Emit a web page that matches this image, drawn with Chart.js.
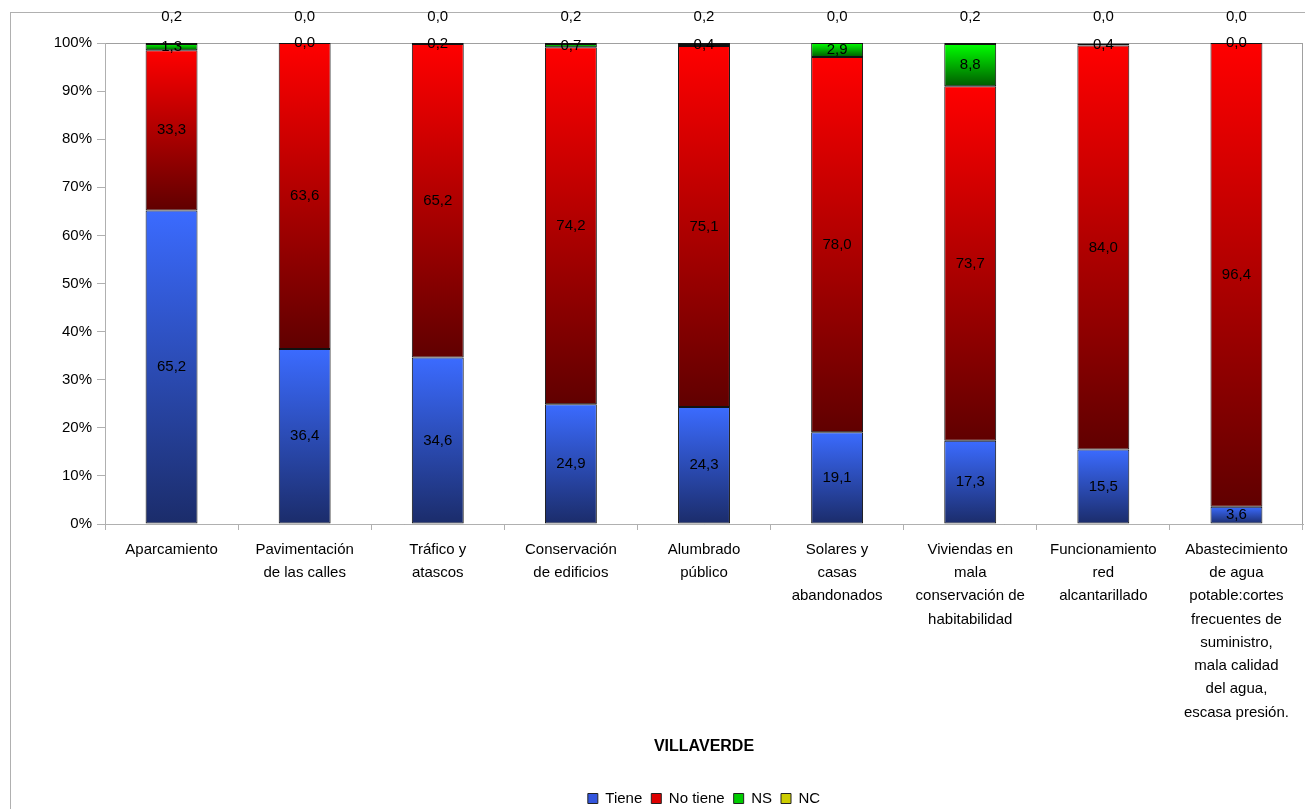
<!DOCTYPE html>
<html>
<head>
<meta charset="utf-8">
<script src="https://cdn.jsdelivr.net/npm/chart.js@4.4.0/dist/chart.umd.min.js"></script>
<style>
  html, body { margin: 0; padding: 0; background: #fff; }
  #wrap { width: 1305px; height: 809px; }
</style>
</head>
<body>
<div id="wrap"><canvas id="chart" width="1305" height="809"></canvas></div>
<script>
// categories (multi-line labels as in the original)
const categories = [
  ['Aparcamiento'],
  ['Pavimentación', 'de las calles'],
  ['Tráfico y', 'atascos'],
  ['Conservación', 'de edificios'],
  ['Alumbrado', 'público'],
  ['Solares y', 'casas', 'abandonados'],
  ['Viviendas en', 'mala', 'conservación de', 'habitabilidad'],
  ['Funcionamiento', 'red', 'alcantarillado'],
  ['Abastecimiento', 'de agua', 'potable:cortes', 'frecuentes de', 'suministro,', 'mala calidad', 'del agua,', 'escasa presión.']
];

const tiene   = [65.2, 36.4, 34.6, 24.9, 24.3, 19.1, 17.3, 15.5, 3.6];
const noTiene = [33.3, 63.6, 65.2, 74.2, 75.1, 78.0, 73.7, 84.0, 96.4];
const ns      = [1.3, 0.0, 0.2, 0.7, 0.4, 2.9, 8.8, 0.4, 0.0];
const nc      = [0.2, 0.0, 0.0, 0.2, 0.2, 0.0, 0.2, 0.0, 0.0];

const seriesNames = ['Tiene', 'No tiene', 'NS', 'NC'];
const yTicks = [0, 10, 20, 30, 40, 50, 60, 70, 80, 90, 100];

const allSeries = [tiene, noTiene, ns, nc];
const FONT = 'Liberation Sans, Arial, sans-serif';

// top / bottom colours of each segment gradient
const gradColors = [
  ['#3b6bff', '#1b2c6a'],
  ['#ff0000', '#600000'],
  ['#00ff00', '#005a00'],
  ['#ffff00', '#6a6a00']
];
const legendColors = ['#3355dd', '#dd0000', '#00cc00', '#cccc00'];

function segGradient(d) {
  return function (ctx) {
    const chart = ctx.chart;
    if (ctx.type !== 'data' || !chart.chartArea || !chart.scales.y) return gradColors[d][0];
    const i = ctx.dataIndex;
    let lo = 0;
    for (let k = 0; k < d; k++) lo += allSeries[k][i];
    const hi = lo + allSeries[d][i];
    const y0 = chart.scales.y.getPixelForValue(hi);
    const y1 = chart.scales.y.getPixelForValue(lo);
    if (y1 - y0 < 1) return gradColors[d][1];
    const g = chart.ctx.createLinearGradient(0, y0, 0, y1);
    g.addColorStop(0, gradColors[d][0]);
    g.addColorStop(1, gradColors[d][1]);
    return g;
  };
}

function fmt(v) {
  return v.toFixed(1).replace('.', ',');
}

// border around the whole chart and around the plot area
const frames = {
  id: 'frames',
  beforeDraw(chart) {
    const c = chart.ctx;
    c.save();
    c.fillStyle = '#fff';
    c.fillRect(0, 0, chart.width, chart.height);
    c.strokeStyle = '#b0b0b0';
    c.lineWidth = 1;
    c.strokeRect(10.5, 12.5, chart.width, chart.height);
    const a = chart.chartArea;
    c.strokeStyle = '#a0a0a0';
    c.strokeRect(a.left + 0.5, a.top + 0.5, a.right - a.left - 1, a.bottom - a.top);
    c.restore();
  }
};

// value labels in each segment
const segLabels = {
  id: 'segLabels',
  afterDatasetsDraw(chart) {
    const c = chart.ctx;
    c.save();
    c.font = '15px ' + FONT;
    c.fillStyle = '#000';
    c.textAlign = 'center';
    c.textBaseline = 'middle';
    chart.data.datasets.forEach((ds, d) => {
      const meta = chart.getDatasetMeta(d);
      meta.data.forEach((el, i) => {
        const v = ds.data[i];
        let y = (el.y + el.base) / 2;
        if (d === 3) y = chart.chartArea.top - 26;
        c.fillText(fmt(v), el.x, y);
      });
    });
    c.restore();
  }
};

const datasets = seriesNames.map((name, d) => ({
  label: name,
  data: allSeries[d],
  backgroundColor: segGradient(d),
  borderColor: '#111',
  borderWidth: 1,
  borderSkipped: false,
  barPercentage: 0.39,
  categoryPercentage: 1.0
}));

new Chart(document.getElementById('chart'), {
  type: 'bar',
  data: { labels: categories, datasets: datasets },
  plugins: [frames, segLabels],
  options: {
    responsive: false,
    animation: false,
    layout: { padding: { top: 43, right: 2, left: 0, bottom: -7 } },
    plugins: {
      tooltip: { enabled: false },
      legend: {
        position: 'bottom',
        fullSize: false,
        labels: {
          boxWidth: 10,
          boxHeight: 10,
          padding: 9,
          color: '#000',
          font: { family: FONT, size: 15 },
          generateLabels: () => seriesNames.map((n, d) => ({
            text: n,
            fillStyle: legendColors[d],
            strokeStyle: '#222',
            lineWidth: 1,
            datasetIndex: d
          }))
        }
      }
    },
    scales: {
      x: {
        stacked: true,
        afterFit: s => { s.height = 258; },
        border: { color: '#b0b0b0' },
        grid: { drawOnChartArea: false, offset: true, tickLength: 6, color: '#b0b0b0' },
        ticks: {
          color: '#000',
          maxRotation: 0,
          autoSkip: false,
          padding: 8,
          font: { family: FONT, size: 15, lineHeight: 1.55 }
        },
        title: {
          display: true,
          text: 'VILLAVERDE',
          color: '#000',
          font: { family: FONT, size: 16, weight: 'bold' },
          padding: { top: 4, bottom: 26 }
        }
      },
      y: {
        stacked: true,
        min: 0,
        max: 100,
        afterFit: s => { s.width = 105; },
        afterBuildTicks: s => { s.ticks = yTicks.map(v => ({ value: v })); },
        border: { color: '#b0b0b0' },
        grid: { drawOnChartArea: false, tickLength: 8, color: '#b0b0b0' },
        ticks: {
          color: '#000',
          padding: 5,
          font: { family: FONT, size: 15 },
          callback: v => v + '%'
        }
      }
    }
  }
});
</script>
</body>
</html>
